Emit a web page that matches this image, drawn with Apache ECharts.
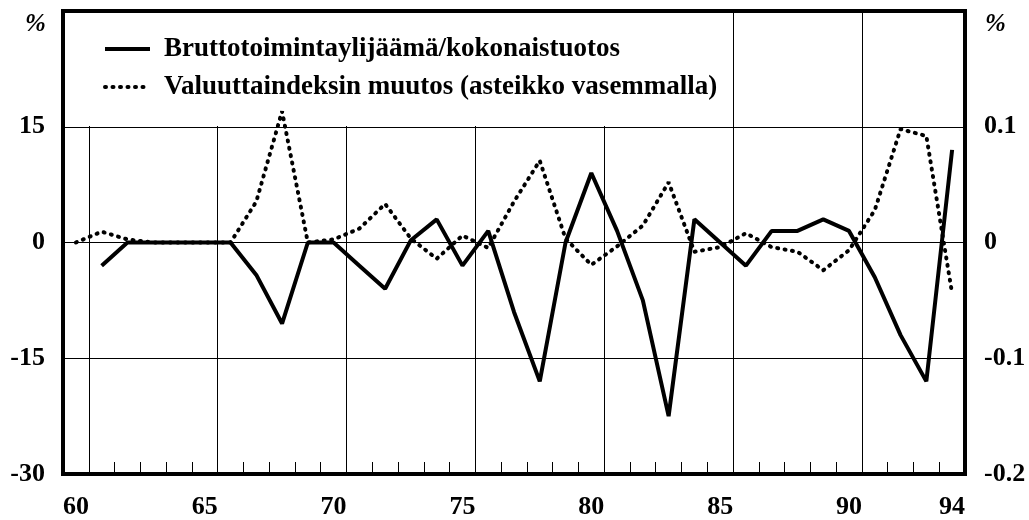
<!DOCTYPE html>
<html>
<head>
<meta charset="utf-8">
<script src="https://cdn.jsdelivr.net/npm/echarts@6/dist/echarts.min.js"></script>
<style>
  html, body { margin: 0; padding: 0; background: #fff; }
  #chart { width: 1029px; height: 520px; }
</style>
</head>
<body>
<div id="chart"></div>
<script>
// vuodet 1960-1994
var years = ['60', '61', '62', '63', '64', '65', '66', '67', '68', '69',
  '70', '71', '72', '73', '74', '75', '76', '77', '78', '79',
  '80', '81', '82', '83', '84', '85', '86', '87', '88', '89',
  '90', '91', '92', '93', '94']

// Bruttotoimintaylijäämä/kokonaistuotos (oikea asteikko)
var brutto = [null, -0.02, 0, 0, 0, 0, 0, -0.028, -0.07, 0,
  0, -0.02, -0.04, 0.002, 0.02, -0.02, 0.01, -0.06, -0.12, 0,
  0.06, 0.01, -0.05, -0.15, 0.02, 0, -0.02, 0.01, 0.01, 0.02,
  0.01, -0.03, -0.08, -0.12, 0.08]

// Valuuttaindeksin muutos, % (vasen asteikko)
var valuutta = [0, 1.4, 0.4, 0, 0, 0, 0, 5.3, 17.0, 0,
  0.4, 1.8, 5.0, 0.5, -2.1, 0.9, -0.7, 5.3, 10.6, 0.5,
  -2.9, -0.5, 2.2, 7.8, -1.2, -0.6, 1.2, -0.6, -1.2, -3.6,
  -1.0, 4.2, 14.7, 13.8, -6.6]

var labelYears = ['60', '65', '70', '75', '80', '85', '90', '94']
var leftTicks = [-30, -15, 0, 15]
var rightTicks = [-0.2, -0.1, 0, 0.1]

var font = 'Liberation Serif'
var myChart = echarts.init(document.getElementById('chart'))

var option = {
  animation: false,
  backgroundColor: '#fff',
  grid: {
    left: 63,
    right: 64,
    top: 11,
    bottom: 44,
    show: true,
    z: 5,
    backgroundColor: 'transparent',
    borderColor: '#000',
    borderWidth: 4,
  },
  legend: {
    left: 66,
    top: 13,
    orient: 'vertical',
    z: 2,
    selectedMode: false,
    backgroundColor: '#fff',
    padding: [21, 10, 24, 37],
    itemGap: 8,
    itemWidth: 45,
    itemHeight: 14,
    itemStyle: { opacity: 0 },
    lineStyle: { width: 4 },
    textStyle: {
      fontFamily: font,
      fontWeight: 'bold',
      fontSize: 27,
      lineHeight: 30,
      color: '#000',
      padding: [0, 0, 0, 9],
    },
    data: ['Bruttotoimintaylijäämä/kokonaistuotos', 'Valuuttaindeksin muutos (asteikko vasemmalla)'],
  },
  graphic: [
    { type: 'text', left: 25, top: 12, style: { text: '%', fontFamily: font, fontWeight: 'bold', fontStyle: 'italic', fontSize: 25, fill: '#000' } },
    { type: 'text', left: 985, top: 12, style: { text: '%', fontFamily: font, fontWeight: 'bold', fontStyle: 'italic', fontSize: 25, fill: '#000' } },
  ],
  xAxis: {
    type: 'category',
    data: years,
    boundaryGap: true,
    z: 0,
    axisLine: { show: false, onZero: false },
    axisTick: {
      show: true,
      inside: true,
      length: 12,
      interval: 0,
      lineStyle: { color: '#000', width: 1 },
    },
    splitLine: {
      show: true,
      // pystyviivat viiden vuoden välein
      interval: function (index) {
        return index % 5 === 1
      },
      lineStyle: { color: '#000', width: 1 },
    },
    axisLabel: {
      interval: function (index, value) {
        return labelYears.indexOf(value) >= 0
      },
      margin: 20,
      fontFamily: font,
      fontWeight: 'bold',
      fontSize: 26,
      color: '#000',
    },
  },
  yAxis: [
    {
      type: 'value',
      min: -30,
      max: 30,
      interval: 15,
      z: 0,
      axisLine: { show: false },
      axisTick: { show: false },
      splitLine: { show: true, lineStyle: { color: '#000', width: 1 } },
      axisLabel: {
        margin: 18,
        fontFamily: font,
        fontWeight: 'bold',
        fontSize: 26,
        color: '#000',
        formatter: function (v) {
          return leftTicks.indexOf(v) >= 0 ? String(v) : ''
        },
      },
    },
    {
      type: 'value',
      min: -0.2,
      max: 0.2,
      interval: 0.1,
      position: 'right',
      z: 0,
      axisLine: { show: false },
      axisTick: { show: false },
      splitLine: { show: false },
      axisLabel: {
        margin: 19,
        fontFamily: font,
        fontWeight: 'bold',
        fontSize: 26,
        color: '#000',
        formatter: function (v) {
          var r = Math.round(v * 10) / 10
          return rightTicks.indexOf(r) >= 0 ? String(r) : ''
        },
      },
    },
  ],
  series: [
    {
      name: 'Bruttotoimintaylijäämä/kokonaistuotos',
      type: 'line',
      yAxisIndex: 1,
      data: brutto,
      symbol: 'none',
      z: 3,
      lineStyle: { color: '#000', width: 4 },
      itemStyle: { color: '#000' },
    },
    {
      name: 'Valuuttaindeksin muutos (asteikko vasemmalla)',
      type: 'line',
      yAxisIndex: 0,
      data: valuutta,
      symbol: 'none',
      z: 3,
      lineStyle: { color: '#000', width: 4, type: [1, 6.5], cap: 'round' },
      itemStyle: { color: '#000' },
    },
  ],
}
option && myChart.setOption(option)
</script>
</body>
</html>
